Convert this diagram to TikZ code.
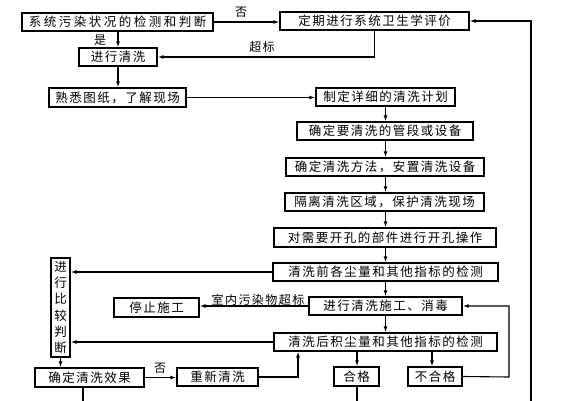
\documentclass[tikz,border=0pt]{standalone}
\usepackage{fontspec}
\newfontfamily\cjk[LetterSpace=12]{Noto Sans CJK SC}
\newfontfamily\cjkwide[LetterSpace=20]{Noto Sans CJK SC}
\newfontfamily\cjkplain{Noto Sans CJK SC}
\usetikzlibrary{arrows.meta}
\begin{document}
\begin{tikzpicture}[x=1pt,y=-1pt,
  box/.style={draw, line width=1.4pt, inner sep=0pt, font=\cjk\fontsize{12.5}{13}\selectfont},
  arr/.style={-{Latex[length=6pt,width=4pt]}, line width=1.1pt},
  ln/.style={line width=1.1pt},
  lbl/.style={inner sep=0pt, font=\cjk\fontsize{12}{13}\selectfont}]
\useasboundingbox[fill=white] (0,0) rectangle (573,400);
\node[box, font=\cjkwide\fontsize{12.5}{13}\selectfont, minimum width=191pt, minimum height=18pt] (b1) at (117.5,22) {系统污染状况的检测和判断};
\node[box, minimum width=189pt, minimum height=18pt] (b2) at (374.5,21) {定期进行系统卫生学评价};
\node[box, minimum width=78pt, minimum height=18pt] (b3) at (118,57) {进行清洗};
\node[box, minimum width=137pt, minimum height=19pt] (b4) at (117.5,97.5) {熟悉图纸，了解现场};
\node[box, minimum width=139pt, minimum height=18pt] (b5) at (385.5,97) {制定详细的清洗计划};
\node[box, minimum width=176pt, minimum height=18pt] (b6) at (385,131) {确定要清洗的管段或设备};
\node[box, minimum width=198pt, minimum height=18pt] (b7) at (385,167) {确定清洗方法，安置清洗设备};
\node[box, minimum width=199pt, minimum height=18pt] (b8) at (384.5,202) {隔离清洗区域，保护清洗现场};
\node[box, minimum width=222pt, minimum height=19pt] (b9) at (385,237.5) {对需要开孔的部件进行开孔操作};
\node[box, minimum width=225pt, minimum height=18pt] (b10) at (385.5,272) {清洗前各尘量和其他指标的检测};
\node[box, minimum width=153pt, minimum height=18pt] (b11) at (385.5,306) {进行清洗施工、消毒};
\node[box, minimum width=223pt, minimum height=18pt] (b12) at (385.5,342) {清洗后积尘量和其他指标的检测};
\node[box, font=\cjkplain\fontsize{12.5}{16.3}\selectfont, align=center, minimum width=19pt, minimum height=99pt] (cmp) at (60.5,307.5) {进\\行\\比\\较\\判\\断};
\node[box, minimum width=85pt, minimum height=19pt] (stop) at (156.5,307.5) {停止施工};
\node[box, minimum width=109pt, minimum height=19pt] (eff) at (89.5,377.5) {确定清洗效果};
\node[box, minimum width=81pt, minimum height=18pt] (redo) at (217.5,377) {重新清洗};
\node[box, minimum width=45pt, minimum height=19pt] (ok) at (356.5,376.5) {合格};
\node[box, minimum width=54pt, minimum height=19pt] (nok) at (435,376.5) {不合格};

\draw[arr] (b1.east) -- (b1.east -| b2.west);
\node[lbl] (l1) at (241,12) {否};
\draw[arr] (b3.north |- b1.south) -- (b3.north);
\node[lbl] (l2) at (100,40) {是};
\draw[arr] (b2.south) |- (b3.east);
\node[lbl] (l3) at (262,47) {超标};
\draw[arr] (b3.south) -- (b3.south |- b4.north);
\draw[arr] (b4.east) -- (b4.east -| b5.west);
\draw[arr] (b5.south) -- (b5.south |- b6.north);
\draw[arr] (b5.south |- b6.south) -- (b5.south |- b7.north);
\draw[arr] (b5.south |- b7.south) -- (b5.south |- b8.north);
\draw[arr] (b5.south |- b8.south) -- (b5.south |- b9.north);
\draw[arr] (b5.south |- b9.south) -- (b5.south |- b10.north);
\draw[arr] (b5.south |- b10.south) -- (b5.south |- b11.north);
\draw[arr] (b5.south |- b11.south) -- (b5.south |- b12.north);
\draw[arr] (b10.west) -- (b10.west -| cmp.east);
\draw[arr] (b11.west) -- (b11.west -| stop.east);
\node[lbl, anchor=south] (l4) at (258,306) {室内污染物超标};
\draw[arr] (b12.west) -- (b12.west -| cmp.east);
\draw[arr] (cmp.south) -- (cmp.south |- eff.north);
\draw[arr] (eff.east) -- (eff.east -| redo.west);
\node[lbl] (l5) at (160,368) {否};
\coordinate (r1) at (298,377);
\draw[arr] (redo.east) -- (r1) -- (r1 |- b12.south);
\coordinate (e1) at (83,402);
\draw[ln] (eff.south -| e1) -- (e1);
\coordinate (k1) at (357,402);
\draw[arr] (b12.south -| k1) -- (ok.north -| k1);
\draw[ln] (ok.south -| k1) -- (k1);
\coordinate (n1) at (432,0);
\draw[arr] (b12.south -| n1) -- (nok.north -| n1);
\coordinate (n2) at (509,377);
\draw[arr] (nok.east) -- (n2) |- (b11.east);
\coordinate (rb) at (531,402);
\draw[arr] (rb) |- (b2.east);
\end{tikzpicture}
\end{document}
